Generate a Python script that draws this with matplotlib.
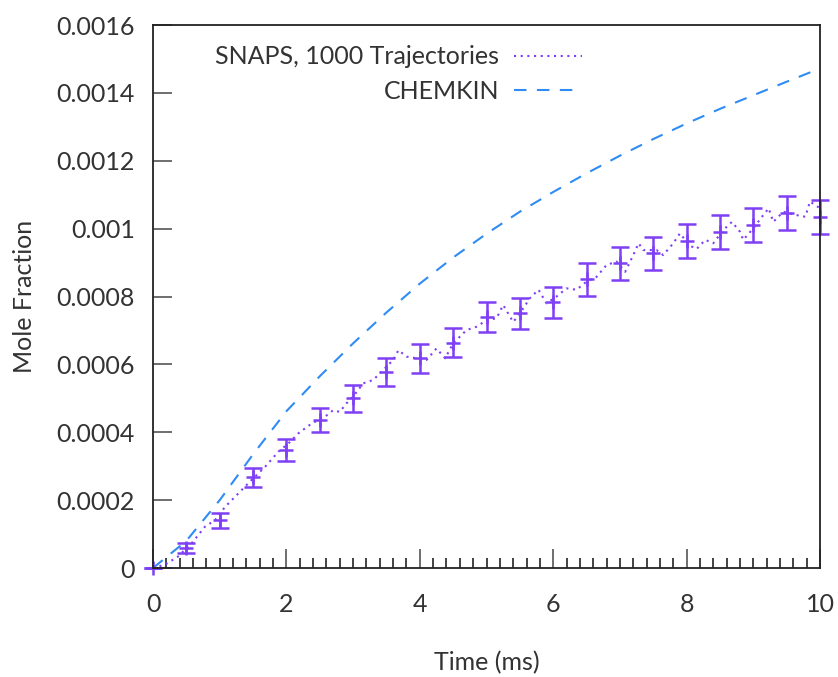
import matplotlib
matplotlib.use("Agg")
import matplotlib.pyplot as plt

plt.rcParams['font.family'] = ['Lato', 'DejaVu Sans']

# SNAPS mean values with error bars (every 0.5 ms)
snaps_t = [0, 0.5, 1, 1.5, 2, 2.5, 3, 3.5, 4, 4.5, 5, 5.5, 6, 6.5, 7, 7.5, 8, 8.5, 9, 9.5, 10]
snaps_mean = [0, 0.000060, 0.000141, 0.000267, 0.000348, 0.000436, 0.000500, 0.000578,
              0.000618, 0.000664, 0.000740, 0.000750, 0.000783, 0.000851, 0.000898,
              0.000927, 0.000964, 0.000989, 0.001010, 0.001047, 0.001035]
snaps_err = [0, 0.000015, 0.000022, 0.000029, 0.000033, 0.000035, 0.000039, 0.000041,
             0.000042, 0.000043, 0.000045, 0.000045, 0.000046, 0.000048, 0.000048,
             0.000049, 0.000049, 0.000050, 0.000050, 0.000050, 0.000050]

# SNAPS trajectory average (dotted line)
traj_t = [0, 0.18, 0.37, 0.58, 0.78, 0.93, 1.08, 1.28, 1.48, 1.68, 1.88, 2.03, 2.18, 2.38,
          2.58, 2.7, 2.8, 2.9, 3.0, 3.15, 3.3, 3.45, 3.6, 3.68, 3.8, 3.95, 4.1, 4.25, 4.38,
          4.5, 4.7, 4.85, 5.0, 5.15, 5.25, 5.4, 5.5, 5.65, 5.78, 5.9, 6.05, 6.2, 6.35, 6.5,
          6.65, 6.8, 6.95, 7.08, 7.2, 7.28, 7.35, 7.55, 7.65, 7.8, 7.9, 8.05, 8.15, 8.28,
          8.4, 8.55, 8.68, 8.8, 8.85, 9.0, 9.13, 9.23, 9.3, 9.45, 9.65, 9.78, 9.85, 10.0]
traj_y = [0, 0.000010, 0.000033, 0.000073, 0.000122, 0.000141, 0.000180, 0.000220, 0.000260,
          0.000298, 0.000343, 0.000367, 0.000397, 0.000426, 0.000446, 0.000465, 0.000460,
          0.000485, 0.000505, 0.000544, 0.000554, 0.000583, 0.000613, 0.000642, 0.000623,
          0.000618, 0.000613, 0.000647, 0.000618, 0.000662, 0.000701, 0.000711, 0.000730,
          0.000736, 0.000775, 0.000725, 0.000750, 0.000795, 0.000820, 0.000780, 0.000800,
          0.000824, 0.000820, 0.000844, 0.000858, 0.000893, 0.000903, 0.000873, 0.000922,
          0.000957, 0.000937, 0.000937, 0.000922, 0.000957, 0.000986, 0.000950, 0.000940,
          0.000967, 0.000957, 0.000996, 0.001020, 0.000991, 0.000967, 0.001001, 0.001035,
          0.001060, 0.001020, 0.001050, 0.001040, 0.001035, 0.001080, 0.001060]

# CHEMKIN
chem_t = [0, 0.5, 1, 1.5, 2, 2.5, 3, 3.5, 4, 4.5, 5, 5.5, 6, 6.5, 7, 7.5, 8, 8.5, 9, 9.5, 10]
chem_y = [0, 0.000080, 0.000200, 0.000335, 0.000462, 0.000565, 0.000662, 0.000753, 0.000838,
          0.000915, 0.000985, 0.001050, 0.001108, 0.001163, 0.001215, 0.001264, 0.001310,
          0.001353, 0.001393, 0.001433, 0.001472]

xticks = [0, 2, 4, 6, 8, 10]
yticks = [0, 0.0002, 0.0004, 0.0006, 0.0008, 0.001, 0.0012, 0.0014, 0.0016]
ytick_labels = ['0', '0.0002', '0.0004', '0.0006', '0.0008', '0.001', '0.0012', '0.0014', '0.0016']
minor_x = [i * 0.2 for i in range(51)]

purple = '#7f3ff5'
blue = '#2f8cf5'
text_c = '#333333'
fs = 18

fig = plt.figure(figsize=(8.38, 6.77), dpi=100)
ax = fig.add_axes([0.1826, 0.161, 0.7959, 0.802])

ax.plot(traj_t, traj_y, linestyle=(0, (1, 2.2)), color=purple, lw=1.5,
        label='SNAPS, 1000 Trajectories')
ax.errorbar(snaps_t, snaps_mean, yerr=snaps_err, fmt='+', color=purple, ms=10, mew=1.8,
            elinewidth=1.8, capsize=6.5, capthick=1.8, clip_on=False)
ax.plot(chem_t, chem_y, linestyle=(0, (6, 5)), color=blue, lw=1.5, label='CHEMKIN')

ax.set_xlim(0, 10)
ax.set_ylim(0, 0.0016)
ax.set_xticks(xticks)
ax.set_xticklabels([str(v) for v in xticks])
ax.set_xticks(minor_x, minor=True)
ax.set_yticks(yticks)
ax.set_yticklabels(ytick_labels)

ax.tick_params(axis='x', which='major', direction='in', length=14, width=1.2, color='#555555',
               pad=18, labelsize=fs, labelcolor=text_c)
ax.tick_params(axis='x', which='minor', direction='in', length=7, width=1.2, color='#222222')
ax.tick_params(axis='y', which='major', direction='in', length=14, width=1.2, color='#555555',
               pad=13, labelsize=fs, labelcolor=text_c)
for s in ax.spines.values():
    s.set_linewidth(1.3)
    s.set_color('#222222')

ax.set_xlabel('Time (ms)', fontsize=fs, color=text_c, labelpad=25)
ax.set_ylabel('Mole Fraction', fontsize=fs, color=text_c, labelpad=15)

leg = ax.legend(loc='upper right', bbox_to_anchor=(0.658, 0.981), frameon=False,
                markerfirst=False, fontsize=fs, handlelength=2.7, handletextpad=0.6,
                labelspacing=0.45, borderaxespad=0)
for t in leg.get_texts():
    t.set_color(text_c)

fig.savefig('out.png', dpi=100)
